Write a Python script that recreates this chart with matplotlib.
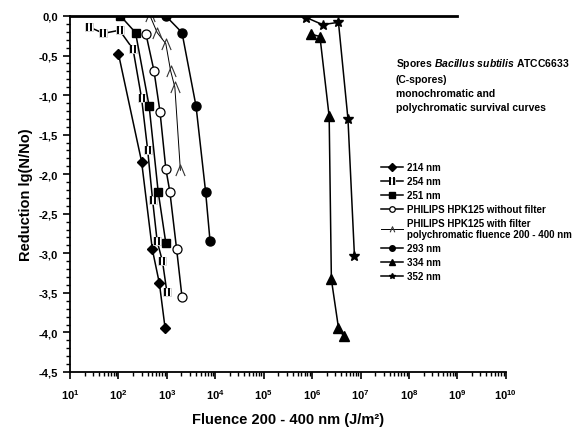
import math
import matplotlib
matplotlib.use('Agg')
import matplotlib.pyplot as plt
from matplotlib.path import Path
from matplotlib.ticker import MultipleLocator, LogLocator, FuncFormatter, NullFormatter

plt.rcParams['font.family'] = ['Liberation Sans', 'DejaVu Sans']
plt.rcParams['font.weight'] = 'bold'
plt.rcParams['mathtext.fontset'] = 'custom'
plt.rcParams['mathtext.rm'] = 'Liberation Sans:bold'
plt.rcParams['mathtext.bf'] = 'Liberation Sans:bold'
plt.rcParams['mathtext.it'] = 'Liberation Sans:bold:italic'

# survival curves, fluence (J/m2) vs reduction lg(N/No)
x_214 = [100, 300, 500, 700, 920]
y_214 = [-0.48, -1.84, -2.95, -3.38, -3.95]

x_254 = [25, 49, 105, 200, 300, 400, 505, 630, 810, 1000]
y_254 = [-0.14, -0.22, -0.18, -0.42, -1.04, -1.69, -2.32, -2.85, -3.10, -3.49]

x_251 = [110, 225, 430, 660, 950]
y_251 = [0.0, -0.21, -1.14, -2.22, -2.87]

x_hpk = [370, 540, 720, 950, 1150, 1590, 2050]
y_hpk = [-0.23, -0.69, -1.21, -1.93, -2.22, -2.95, -3.55]

x_hpkf = [450, 630, 950, 1190, 1460, 1900]
y_hpkf = [0.0, -0.21, -0.35, -0.69, -0.90, -1.95]

x_293 = [950, 2050, 4000, 6300, 7800]
y_293 = [0.0, -0.21, -1.14, -2.22, -2.85]

x_334 = [9.6e5, 1.45e6, 2.25e6, 2.5e6, 3.5e6, 4.5e6]
y_334 = [-0.23, -0.26, -1.27, -3.33, -3.94, -4.05]

x_352 = [7.6e5, 1.65e6, 3.5e6, 5.5e6, 7.5e6]
y_352 = [-0.02, -0.11, -0.08, -1.30, -3.04]

wedge = Path([(-0.5, -0.6), (0, 0.6), (0.5, -0.6)], [Path.MOVETO, Path.LINETO, Path.LINETO])
bars = Path([(-0.3, -0.6), (-0.3, 0.6), (0.3, -0.6), (0.3, 0.6)],
            [Path.MOVETO, Path.LINETO, Path.MOVETO, Path.LINETO])

fig = plt.figure(figsize=(5.84, 4.31), dpi=100)
ax = fig.add_axes([0.120, 0.1346, 0.746, 0.826])

lw = 1.1
h1, = ax.plot(x_214, y_214, color='k', lw=lw, marker='D', ms=5.5, mfc='k', mec='k')
h2a, = ax.plot(x_254, y_254, color='k', lw=lw, marker='s', ms=6, mfc='white', mec='0.8', mew=0.6)
h2b, = ax.plot(x_254, y_254, ls='none', marker=bars, ms=6, mec='k', mew=1.4)
h3, = ax.plot(x_251, y_251, color='k', lw=lw, marker='s', ms=5.5, mfc='k', mec='k')
h4, = ax.plot(x_hpk, y_hpk, color='k', lw=lw, marker='o', ms=6.5, mfc='white', mec='k', mew=0.9)
h5, = ax.plot(x_hpkf, y_hpkf, color='k', lw=0.7, marker=wedge, ms=8, mfc='none', mec='0.2', mew=0.8)
h6, = ax.plot(x_293, y_293, color='k', lw=lw, marker='o', ms=6.5, mfc='k', mec='k')
h7, = ax.plot(x_334, y_334, color='k', lw=lw, marker='^', ms=6.5, mfc='k', mec='k')
h8, = ax.plot(x_352, y_352, color='k', lw=lw, marker='*', ms=7.5, mfc='k', mec='k')

ax.set_xscale('log')
ax.set_xlim(10, 1e10)
ax.set_ylim(-4.5, 0)

ax.spines['right'].set_visible(False)
ax.spines['top'].set_bounds(10, 1e9)
ax.spines['top'].set_linewidth(2)
ax.spines['left'].set_linewidth(1.3)
ax.spines['bottom'].set_linewidth(1.3)

ax.xaxis.set_major_locator(LogLocator(base=10, numticks=12))
ax.xaxis.set_minor_locator(LogLocator(base=10, subs=range(2, 10), numticks=100))
ax.xaxis.set_minor_formatter(NullFormatter())
ax.xaxis.set_major_formatter(FuncFormatter(lambda v, p: r'$\mathbf{10^{%d}}$' % round(math.log10(v))))
ax.yaxis.set_major_locator(MultipleLocator(0.5))
ax.yaxis.set_minor_locator(MultipleLocator(0.1))
ax.yaxis.set_major_formatter(FuncFormatter(lambda v, p: f'{v:.1f}'.replace('.', ',').replace('-0,0', '0,0')))

ax.tick_params(which='major', direction='out', length=5, width=1.2, labelsize=8, top=False, right=False)
ax.tick_params(which='minor', direction='out', length=3, width=1.0, top=False, right=False)
ax.tick_params(axis='x', pad=6)

ax.set_xlabel('Fluence 200 - 400 nm (J/m²)', fontsize=10.5, fontweight='bold', labelpad=8)
ax.set_ylabel('Reduction lg(N/No)', fontsize=10.5, fontweight='bold', labelpad=4)

ax.text(0.747, 0.888, 'Spores $\\mathit{Bacillus\\ subtilis}$ ATCC6633\n(C-spores)\nmonochromatic and\npolychromatic survival curves',
        transform=ax.transAxes, fontsize=7.5, fontweight='bold', va='top', ha='left', linespacing=1.5)

labels = ['214 nm', '254 nm', '251 nm', 'PHILIPS HPK125 without filter',
          'PHILIPS HPK125 with filter\npolychromatic fluence 200 - 400 nm',
          '293 nm', '334 nm', '352 nm']
leg = ax.legend([h1, (h2a, h2b), h3, h4, h5, h6, h7, h8], labels,
                loc='upper left', bbox_to_anchor=(0.705, 0.60), frameon=False,
                handlelength=2.2, handletextpad=0.5, labelspacing=0.4,
                borderaxespad=0, prop={'weight': 'bold', 'size': 7})
for h in leg.legend_handles:
    try:
        h.set_markersize(4)
    except AttributeError:
        pass

fig.savefig('out.png', dpi=100)
